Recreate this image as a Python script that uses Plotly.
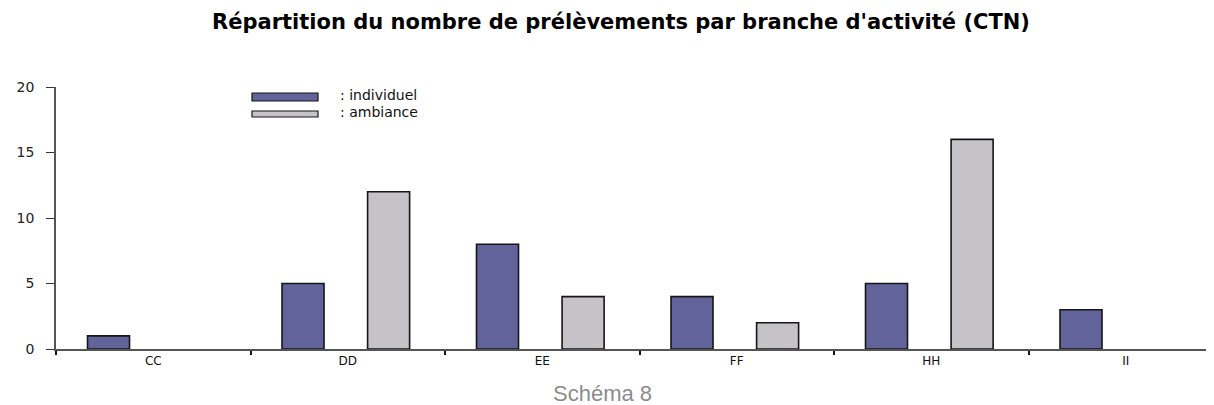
import plotly.graph_objects as go

# data
branches = ['CC', 'DD', 'EE', 'FF', 'HH', 'II']
individuel = [1, 5, 8, 4, 5, 3]
ambiance = [0, 12, 4, 2, 16, 0]
y_ticks = [0, 5, 10, 15, 20]

# the page body adds an 8px margin, so work in target pixels and shift
PAD = 8
W, H = 1214, 405
left, top, bottom = 56, 87, 56
plot_w = W - left
plot_h = H - top - bottom


def px_x(px):
    # target pixel column -> paper x
    return (px - left) / plot_w


def px_y(py):
    # target pixel row -> paper y
    return (H - bottom - py) / plot_h


def no_zero(vals):
    # empty cells are drawn as nothing, not as a flat outline
    return [v if v else None for v in vals]


fig = go.Figure()
fig.add_trace(go.Bar(
    x=branches, y=no_zero(individuel), name='individuel',
    width=0.216, offset=-0.338,
    marker=dict(color='#62639b', line=dict(color='#161616', width=1.6)),
))
fig.add_trace(go.Bar(
    x=branches, y=no_zero(ambiance), name='ambiance',
    width=0.216, offset=0.102,
    marker=dict(color='#c5c3c8', line=dict(color='#161616', width=1.6)),
))

# hand-drawn legend like the original (wide swatches + ": label")
shapes = []
annotations = []
legend_items = [('#62639b', ': individuel', 93, 101), ('#c5c3c8', ': ambiance', 111, 117)]
for color, label, y0, y1 in legend_items:
    shapes.append(dict(type='rect', xref='paper', yref='paper',
                       x0=px_x(252), x1=px_x(318), y0=px_y(y1), y1=px_y(y0),
                       fillcolor=color, line=dict(color='#161616', width=1.2)))
    annotations.append(dict(xref='paper', yref='paper', x=px_x(338), y=px_y((y0 + y1) / 2 - 2),
                            text=label, showarrow=False, xanchor='left', yanchor='middle',
                            font=dict(family='DejaVu Sans', size=14, color='#111')))

annotations.append(dict(xref='paper', yref='paper', x=px_x(602), y=px_y(393),
                        text='Schéma 8', showarrow=False, xanchor='center', yanchor='middle',
                        font=dict(family='Liberation Sans', size=22, color='#8c8c8c')))

fig.update_layout(
    width=W - PAD, height=H - PAD,
    margin=dict(l=left - PAD, r=0, t=top - PAD, b=bottom),
    paper_bgcolor='white', plot_bgcolor='white',
    barmode='overlay',
    showlegend=False,
    title=dict(text="<b>Répartition du nombre de prélèvements par branche d'activité (CTN)</b>",
               x=(621 - PAD) / (W - PAD), xanchor='center',
               y=1 - (22 - PAD) / (H - PAD), yanchor='middle',
               font=dict(family='DejaVu Sans', size=21, color='black')),
    shapes=shapes,
    annotations=annotations,
    xaxis=dict(range=[-0.5, -0.5 + plot_w / 194.5], showgrid=False, zeroline=False,
               showline=True, linecolor='#555', linewidth=1.5,
               ticks='outside', tickson='boundaries', ticklen=4, tickcolor='#111', tickwidth=1.5,
               tickfont=dict(family='DejaVu Sans', size=12, color='#111')),
    yaxis=dict(range=[0, 20], tickvals=y_ticks, showgrid=False, zeroline=False,
               showline=True, linecolor='#555', linewidth=1.5,
               ticks='outside', ticklen=8, tickcolor='#333', tickwidth=1.3,
               ticklabelstandoff=9,
               tickfont=dict(family='DejaVu Sans', size=14, color='#222')),
)

fig.write_html('out.html')
